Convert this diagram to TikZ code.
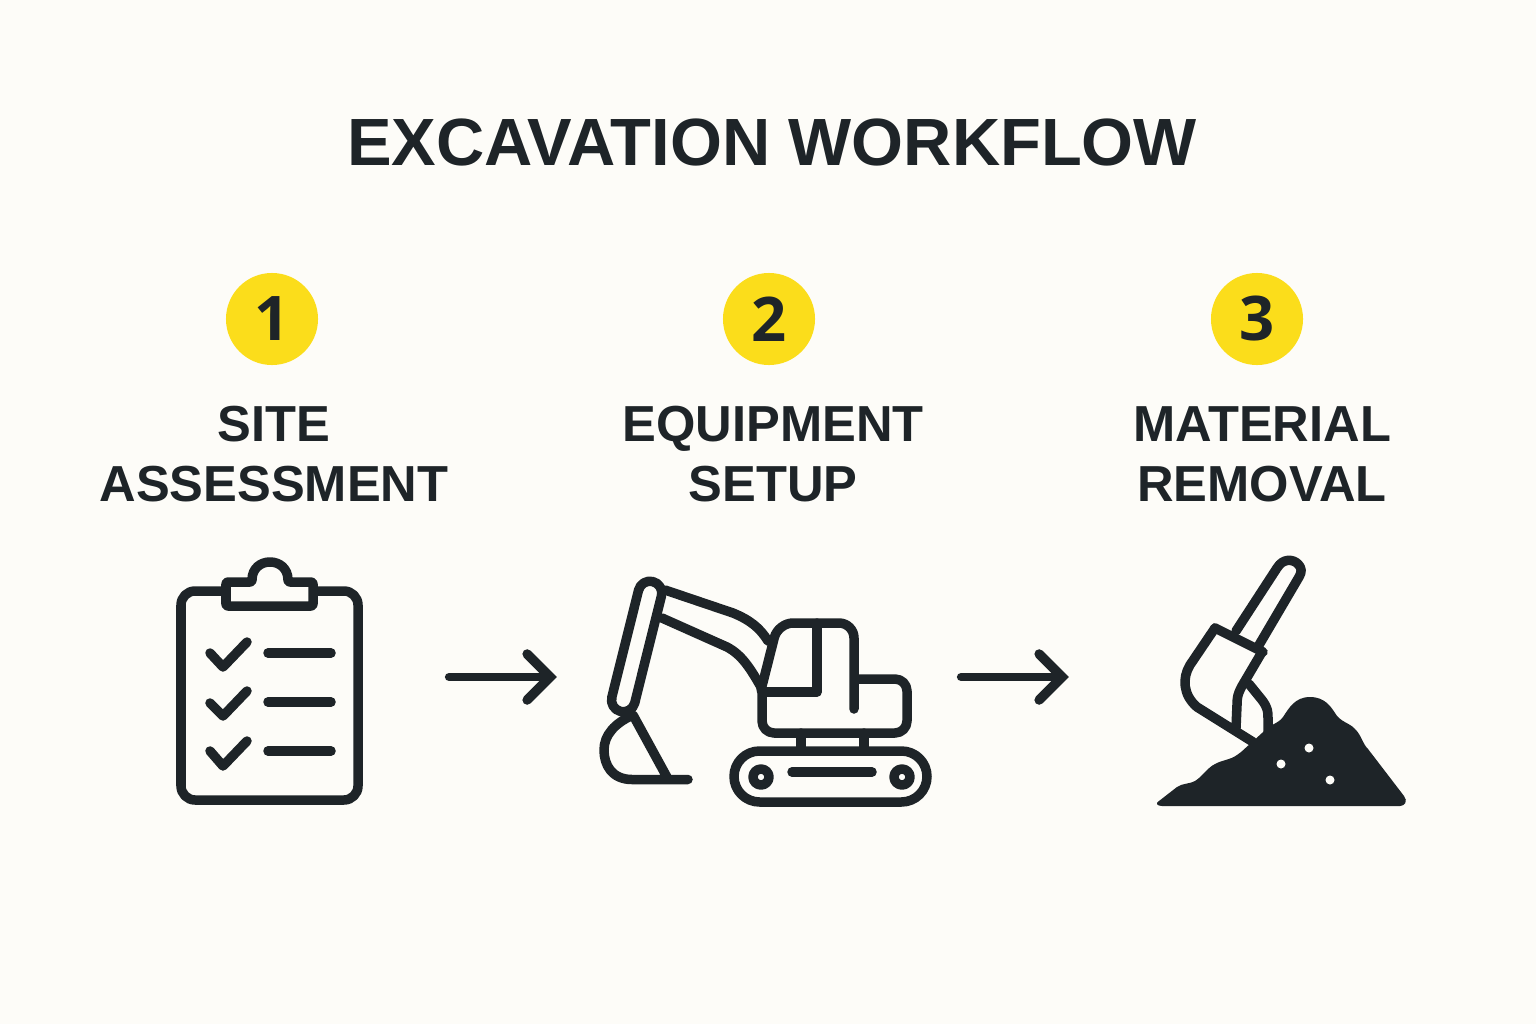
\documentclass[tikz,border=0pt]{standalone}
\usepackage{fontspec}
\setmainfont{Liberation Sans}
\newfontfamily\digitfont{Open Sans}
\usepackage{xcolor}
\usetikzlibrary{arrows.meta,positioning}
\definecolor{inkdark}{HTML}{1E2428}
\definecolor{paper}{HTML}{FDFCF8}
\definecolor{badgeyellow}{HTML}{FBDD1B}
\tikzset{
    titletext/.style={text=inkdark, font=\fontsize{19}{23}\selectfont\bfseries},
    labeltext/.style={text=inkdark, align=center, font=\fontsize{14.4}{17}\selectfont\bfseries},
    badge/.style={circle, fill=badgeyellow, minimum size=0.92cm, inner sep=0pt, text=inkdark, font=\digitfont\fontsize{17.5}{20}\selectfont\bfseries},
    iconspot/.style={inner sep=0pt, outer sep=0pt, minimum height=2.4cm},
    iconline/.style={draw=inkdark, line width=0.095cm, line cap=round, line join=round},
    flowarrow/.style={iconline, line width=0.085cm, -{Straight Barb[length=0.23cm, width=0.46cm, line width=0.095cm, line cap=round, line join=miter]}}
}
\begin{document}
\begin{tikzpicture}[x=0.01cm, y=-0.01cm]
    \useasboundingbox (0,0) rectangle (1536,1024);
    \fill[paper] (0,0) rectangle (1536,1024);

    \node[titletext] (title) at (772,142) {EXCAVATION WORKFLOW};

    \node[badge] (badgeA) at (272,319) {1};
    \node[badge] (badgeB) at (769,319) {2};
    \node[badge] (badgeC) at (1257,319) {3};

    \node[labeltext] (labelA) at (274,454) {SITE\\ASSESSMENT};
    \node[labeltext] (labelB) at (773,454) {EQUIPMENT\\SETUP};
    \node[labeltext] (labelC) at (1262,454) {MATERIAL\\REMOVAL};

    \node[iconspot, minimum width=1.86cm] (clipboard) at (270,677) {};
    \node[iconspot, minimum width=3.32cm] (digger) at (766,677) {};
    \node[iconspot, minimum width=2.48cm] (pile) at (1282,677) {};

    \draw[flowarrow, shorten <=0.86cm, shorten >=0.43cm] (clipboard) -- (digger);
    \draw[flowarrow, shorten <=0.29cm, shorten >=0.89cm] (digger) -- (pile);

    % clipboard
    \draw[iconline, rounded corners=0.14cm] (181,591) rectangle (358,800);
    \draw[iconline, fill=paper, rounded corners=0.02cm] (226,582) -- (252,582) .. controls (252,556) and (288,556) .. (288,582) -- (313,582) -- (313,606) -- (226,606) -- cycle;
    \draw[iconline] (210,653) -- (223,667) -- (247,642);
    \draw[iconline] (210,703) -- (223,716) -- (247,691);
    \draw[iconline] (210,751) -- (223,766) -- (247,741);
    \draw[iconline] (268,653) -- (331,653);
    \draw[iconline] (268,702) -- (331,702);
    \draw[iconline] (268,751) -- (331,751);

    % excavator
    \draw[iconline, rounded corners=0.118cm] (664.3,584.4) -- (641.4,578.7) -- (609,708.6) -- (631.9,714.3) -- cycle;
    \draw[iconline] (665,590) -- (733,613) .. controls (750,620) and (760,628) .. (768,641);
    \draw[iconline] (662,618) -- (727,647) .. controls (742,655) and (750,668) .. (761,687);
    \draw[iconline, rounded corners=0.15cm] (761,690) -- (778,623) -- (854,623) -- (854,709);
    \draw[iconline] (817,623) -- (817,692) -- (762,692);
    \draw[iconline, rounded corners=0.12cm] (762,692) -- (762,733) -- (907,733) -- (907,679) -- (856,679);
    \draw[iconline] (801,733) -- (801,750);
    \draw[iconline] (864,733) -- (864,750);
    \draw[iconline, rounded corners=0.255cm] (734,751) rectangle (927,802);
    \draw[iconline] (761,777) circle (0.08cm);
    \draw[iconline] (902,777) circle (0.08cm);
    \draw[iconline] (792,772) -- (872,772);
    \draw[iconline] (688,779.5) -- (632,779.5) .. controls (612,779.5) and (604,765) .. (604,750) .. controls (604,735) and (615,723) .. (633,715) -- (668,779);

    % shovel and heap
    \draw[iconline] (1236,631) -- (1277,568) .. controls (1283,558) and (1293,559) .. (1298,564) .. controls (1302,568) and (1302,572) .. (1299,577) -- (1259,645);
    \draw[iconline] (1215,628) -- (1190,665) .. controls (1182,678) and (1183,695) .. (1197,707) -- (1253,742);
    \draw[iconline] (1215,628) -- (1263,652);
    \draw[iconline] (1262,652) -- (1242,686) .. controls (1237,695) and (1237,700) .. (1237,705) -- (1236,728);
    \draw[iconline] (1249,684) -- (1262,700) .. controls (1268,708) and (1268,712) .. (1268,718) -- (1268,735);
    \fill[inkdark] (1159,801) -- (1177,787) .. controls (1183,783) and (1190,784) .. (1195,781) .. controls (1203,776) and (1207,768) .. (1215,764) .. controls (1222,760) and (1230,760) .. (1237,755) .. controls (1243,751) and (1245,748) .. (1250,744) -- (1262,733) .. controls (1270,724) and (1278,724) .. (1283,717) .. controls (1289,708) and (1295,697) .. (1310,697) .. controls (1325,697) and (1331,707) .. (1335,713) .. controls (1340,722) and (1350,723) .. (1355,729) .. controls (1362,736) and (1362,743) .. (1368,749) -- (1404,796) .. controls (1408,801) and (1405,806) .. (1400,806) -- (1162,806) .. controls (1157,806) and (1155,803) .. (1159,801) -- cycle;
    \fill[paper] (1309,748) circle (0.045cm);
    \fill[paper] (1281,764) circle (0.045cm);
    \fill[paper] (1330,780) circle (0.045cm);
\end{tikzpicture}
\end{document}
